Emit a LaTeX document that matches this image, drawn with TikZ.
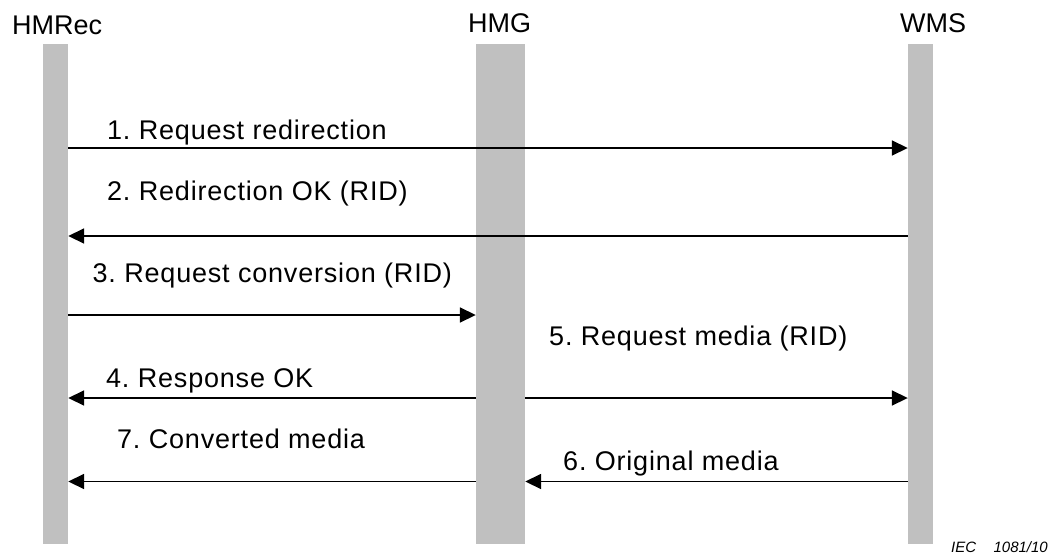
\documentclass[tikz,border=0pt]{standalone}
\usepackage{fontspec}
\setmainfont{Liberation Sans}
\newfontfamily\msgfont[LetterSpace=3]{Liberation Sans}
\usepackage{tikz}
\usetikzlibrary{arrows.meta, positioning}
\definecolor{bargray}{RGB}{192,192,192}
\tikzstyle{bar} = [fill=bargray, draw=none, rectangle, inner sep=0pt, minimum height=500pt]
\tikzstyle{entity} = [font=\fontsize{27}{32}\selectfont, inner sep=0pt, anchor=base west]
\tikzstyle{msglabel} = [font=\msgfont\fontsize{27}{32}\selectfont\frenchspacing, inner sep=0pt, anchor=base west]
\tikzstyle{msg} = [line width=1.7pt, -{Triangle[length=16pt, width=15pt]}]
\tikzstyle{iec} = [font=\itshape\fontsize{15}{18}\selectfont, inner sep=0pt, anchor=base west]

\begin{document}
\begin{tikzpicture}[x=1pt, y=-1pt]
	\useasboundingbox (0,0) rectangle (1058,555);
	% lifelines
	\node [bar, minimum width=25pt] (rec) at (55.5,294) {};
	\node [bar, minimum width=49pt] (hmg) at (500.5,294) {};
	\node [bar, minimum width=25pt] (wms) at (920.5,294) {};
	\node [entity] (recname) at (12,34) {HMRec};
	\node [entity] (hmgname) at (468,32) {HMG};
	\node [entity] (wmsname) at (900,32) {WMS};
	% message levels
	\coordinate (m1) at (0,148);
	\coordinate (m2) at (0,236);
	\coordinate (m3) at (0,315);
	\coordinate (m4) at (0,398);
	\coordinate (m6) at (0,481.5);
	% messages
	\draw [msg] (rec.east |- m1) -- (wms.west |- m1);
	\draw [msg] (wms.west |- m2) -- (rec.east |- m2);
	\draw [msg] (rec.east |- m3) -- (hmg.west |- m3);
	\draw [msg] (hmg.west |- m4) -- (rec.east |- m4);
	\draw [msg] (hmg.east |- m4) -- (wms.west |- m4);
	\draw [msg] (wms.west |- m6) -- (hmg.east |- m6);
	\draw [msg] (hmg.west |- m6) -- (rec.east |- m6);
	\node [msglabel] (l1) at (107,139) {1. Request redirection};
	\node [msglabel] (l2) at (107,200) {2. Redirection OK (RID)};
	\node [msglabel] (l3) at (92.5,282) {3. Request conversion (RID)};
	\node [msglabel] (l4) at (106,387) {4. Response OK};
	\node [msglabel] (l5) at (549,345) {5. Request media (RID)};
	\node [msglabel] (l6) at (563,470) {6. Original media};
	\node [msglabel] (l7) at (117,448) {7. Converted media};
	\node [iec] (fig) at (951,552) {IEC};
	\node [iec, right=17pt of fig.base east, anchor=base west] (fignum) {1081/10};
\end{tikzpicture}
\end{document}
